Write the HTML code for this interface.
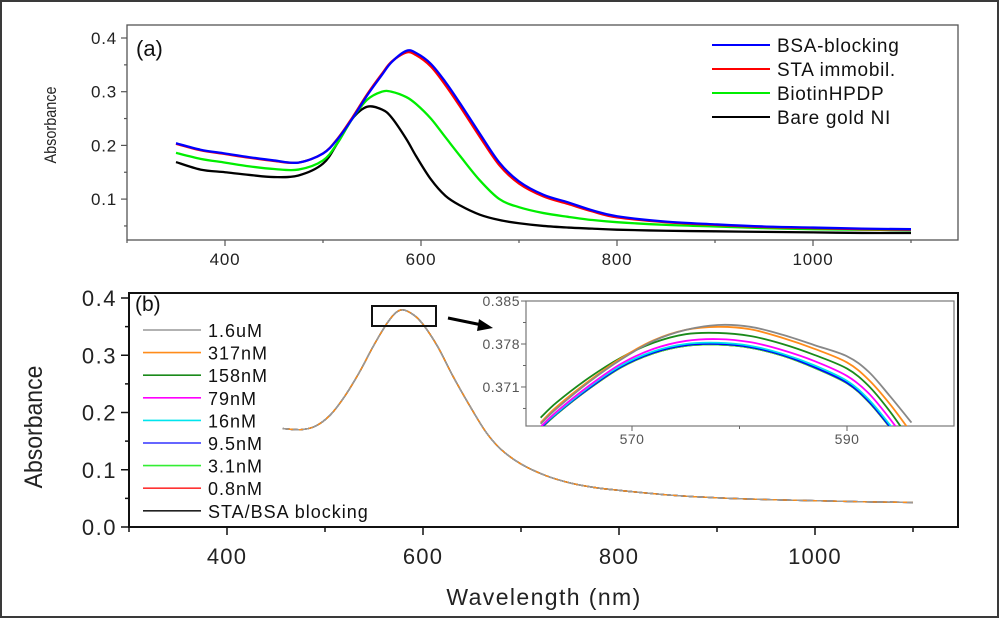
<!DOCTYPE html>
<html><head><meta charset="utf-8">
<style>
html,body{margin:0;padding:0;background:#fff;}
svg{display:block;font-family:"Liberation Sans",Arial,sans-serif;}
</style></head>
<body>
<svg id="fig" width="1000" height="620" viewBox="0 0 1000 620" xmlns="http://www.w3.org/2000/svg">
<rect x="1" y="1" width="997" height="616" fill="#fff" stroke="#3a3a3a" stroke-width="2"/>
<g id="pa"></g>
<g id="pb"></g>
<g id="pi"></g>
</svg>
<script>
// ---------- Panel (a) data ----------
const aWl = [350,375,400,425,450,475,500,515,530,545,560,570,585,595,610,625,640,660,680,700,725,750,775,800,850,900,950,1000,1050,1100];
const aBSA = [0.204,0.192,0.185,0.178,0.172,0.168,0.185,0.212,0.250,0.293,0.331,0.355,0.376,0.372,0.352,0.318,0.278,0.222,0.168,0.133,0.108,0.094,0.079,0.068,0.058,0.053,0.049,0.047,0.045,0.044];
const aSTA = [0.203,0.191,0.184,0.177,0.171,0.168,0.185,0.213,0.252,0.295,0.333,0.356,0.373,0.368,0.347,0.312,0.272,0.216,0.163,0.129,0.105,0.091,0.077,0.066,0.057,0.052,0.048,0.046,0.044,0.043];
const aBiotin = [0.186,0.175,0.168,0.161,0.156,0.155,0.172,0.205,0.250,0.285,0.300,0.300,0.290,0.277,0.250,0.215,0.180,0.135,0.100,0.085,0.074,0.067,0.061,0.057,0.052,0.049,0.046,0.044,0.043,0.042];
const aBare = [0.169,0.155,0.150,0.145,0.141,0.144,0.166,0.205,0.250,0.272,0.267,0.252,0.212,0.180,0.137,0.106,0.088,0.071,0.061,0.055,0.050,0.047,0.045,0.043,0.041,0.040,0.039,0.038,0.037,0.037];
const aSeries = [aBSA,aSTA,aBiotin,aBare];
const aNames = ["BSA-blocking","STA immobil.","BiotinHPDP","Bare gold NI"];
const aColors = ["#0000ff","#ff0000","#00ee00","#000000"];
const aYTicks = [0.1,0.2,0.3,0.4];
const aXTicks = [400,600,800,1000];

// ---------- Panel (b) data ----------
const bWl = [457,475,490,505,520,535,550,565,577,590,600,615,631,650,665,680,700,725,750,775,800,850,900,950,1000,1050,1100];
const bBase = [0.172,0.170,0.176,0.195,0.228,0.270,0.318,0.360,0.379,0.371,0.354,0.315,0.262,0.205,0.164,0.135,0.110,0.090,0.077,0.069,0.064,0.056,0.051,0.048,0.046,0.044,0.043];
const bNames = ["1.6uM","317nM","158nM","79nM","16nM","9.5nM","3.1nM","0.8nM","STA/BSA blocking"];
const bColors = ["#999999","#ff8c1a","#1a8a1a","#ff00ff","#00e5ee","#3333ff","#33ee33","#ff3333","#222222"];
const bYTicks = [0.0,0.1,0.2,0.3,0.4];
const bYLabels = ["0.0","0.1","0.2","0.3","0.4"];
const bXTicks = [400,600,800,1000];

// ---------- Inset data ----------
const iWl = [561.5,563,566,569,572,575,578,581,584,587,590,592,594,596];
const iGray = [0.3650,0.3675,0.3718,0.3755,0.3785,0.3803,0.3811,0.3808,0.3795,0.3778,0.3760,0.3735,0.3695,0.3652];
const iOrange = [0.3652,0.3678,0.3720,0.3757,0.3786,0.3803,0.3808,0.3804,0.3790,0.3772,0.3750,0.3722,0.3682,0.3635];
const iDkGreen = [0.3660,0.3685,0.3725,0.3758,0.3782,0.3796,0.3798,0.3793,0.3780,0.3762,0.3740,0.3712,0.3670,0.3620];
const iMagenta = [0.3645,0.3670,0.3712,0.3748,0.3772,0.3785,0.3788,0.3783,0.3770,0.3752,0.3728,0.3700,0.3658,0.3610];
const iCyan = [0.3645,0.3668,0.3710,0.3745,0.3768,0.3780,0.3782,0.3777,0.3764,0.3745,0.3720,0.3690,0.3648,0.3600];
const iBlue = [0.3643,0.3667,0.3708,0.3743,0.3766,0.3778,0.3780,0.3775,0.3762,0.3742,0.3717,0.3687,0.3645,0.3597];
const iGreen = [0.3642,0.3666,0.3707,0.3742,0.3765,0.3777,0.3779,0.3774,0.3761,0.3741,0.3716,0.3686,0.3644,0.3596];
const iRed = [0.3642,0.3666,0.3707,0.3742,0.3765,0.3777,0.3779,0.3774,0.3761,0.3741,0.3716,0.3686,0.3644,0.3596];
const iBlack = [0.3642,0.3666,0.3707,0.3742,0.3765,0.3777,0.3779,0.3774,0.3761,0.3741,0.3716,0.3686,0.3644,0.3596];
const iSeries = [iBlack,iRed,iGreen,iBlue,iCyan,iMagenta,iDkGreen,iOrange,iGray];
const iColors = ["#222222","#ff3333","#33ee33","#0000ff","#00e5ee","#ff00ff","#1a8a1a","#ff8c1a","#888888"];
const iYTicks = [0.371,0.378,0.385];
const iXTicks = [570,590];

const NS="http://www.w3.org/2000/svg";
function mk(tag, parent, attrs){const e=document.createElementNS(NS,tag);for(const k in attrs)e.setAttribute(k,attrs[k]);parent.appendChild(e);return e;}
// smooth Catmull-Rom path through data points
function pathD(xs,ys,fx,fy){
  const P=xs.map((x,i)=>[fx(x),fy(ys[i])]);
  let d="M"+P[0][0].toFixed(2)+","+P[0][1].toFixed(2);
  for(let i=0;i<P.length-1;i++){
    const p0=P[Math.max(0,i-1)],p1=P[i],p2=P[i+1],p3=P[Math.min(P.length-1,i+2)];
    const c1=[p1[0]+(p2[0]-p0[0])/6,p1[1]+(p2[1]-p0[1])/6];
    const c2=[p2[0]-(p3[0]-p1[0])/6,p2[1]-(p3[1]-p1[1])/6];
    d+=" C"+c1[0].toFixed(2)+","+c1[1].toFixed(2)+" "+c2[0].toFixed(2)+","+c2[1].toFixed(2)+" "+p2[0].toFixed(2)+","+p2[1].toFixed(2);
  }
  return d;
}

// ---------- Panel (a) ----------
(function(){
  const g=document.getElementById('pa');
  const L=127,R=958,T=25,B=240;
  const fx=x=>L+(x-300)*0.98;
  const fy=v=>38+(0.4-v)*537;
  const box=mk('rect',g,{x:L,y:T,width:R-L,height:B-T,fill:'none',stroke:'#555','stroke-width':1.3});
  
  
  for(let k=1;k<=8;k++){
    const v=k*0.05, major=k%2===0;
    const t=mk('line',g,{x1:L,x2:L-(major?6:3),y1:fy(v),y2:fy(v),stroke:'#555','stroke-width':1.2});
    
    
  }
  aYTicks.forEach(v=>{
    const t=mk('text',g,{x:L-10,y:fy(v)+6,'text-anchor':'end','font-size':17,fill:'#222','letter-spacing':'0.8'});
    t.textContent=v.toFixed(1);
    
    
  });
  for(let x=300;x<=1100;x+=100){
    const major=x%200===0;
    const t=mk('line',g,{x1:fx(x),x2:fx(x),y1:B,y2:B+(major?6:3),stroke:'#555','stroke-width':1.2});
    
    
  }
  aXTicks.forEach(x=>{
    const t=mk('text',g,{x:fx(x),y:265,'text-anchor':'middle','font-size':17,fill:'#222','letter-spacing':'0.8'});
    t.textContent=x;
    
    
  });
  const yt=mk('text',g,{x:0,y:0,'text-anchor':'middle','font-size':17,fill:'#222',transform:'translate(56,125) rotate(-90) scale(0.85,1)'});
  yt.textContent='Absorbance';
  
  
  const lab=mk('text',g,{x:136,y:56,'font-size':22,fill:'#111'});
  lab.textContent='(a)';
  
  
  [3,2,1,0].forEach(i=>{
    const p=mk('path',g,{d:pathD(aWl,aSeries[i],fx,fy),fill:'none',stroke:aColors[i],'stroke-width':2.3,'stroke-linejoin':'round'});
    
    
  });
  aNames.forEach((n,i)=>{
    const y=45+i*24;
    const l=mk('line',g,{x1:712,x2:770,y1:y,y2:y,stroke:aColors[i],'stroke-width':2});
    
    
    const t=mk('text',g,{x:777,y:y+7,'font-size':19,fill:'#111','letter-spacing':'0.7'});
    t.textContent=n;
    
    
  });
})();

// ---------- Panel (b) ----------
(function(){
  const g=document.getElementById('pb');
  const L=129,R=958,T=293,B=527;
  const fx=x=>L+(x-300)*0.98;
  const fy=v=>B-v*572.5;
  const box=mk('rect',g,{x:L,y:T,width:R-L,height:B-T,fill:'none',stroke:'#111','stroke-width':2});
  
  
  for(let k=0;k<=8;k++){
    const v=k*0.05, major=k%2===0;
    const t=mk('line',g,{x1:L,x2:L-(major?8:4),y1:fy(v),y2:fy(v),stroke:'#111','stroke-width':1.5});
    
    
  }
  bYTicks.forEach((v,i)=>{
    const t=mk('text',g,{x:L-12,y:fy(v)+8,'text-anchor':'end','font-size':22,fill:'#222','letter-spacing':'1.5'});
    t.textContent=bYLabels[i];
    
    
  });
  for(let x=300;x<=1100;x+=100){
    const major=x%200===0;
    const t=mk('line',g,{x1:fx(x),x2:fx(x),y1:B,y2:B+(major?8:5),stroke:'#111','stroke-width':1.5});
    
    
  }
  bXTicks.forEach(x=>{
    const t=mk('text',g,{x:fx(x),y:564,'text-anchor':'middle','font-size':22,fill:'#222','letter-spacing':'1.2'});
    t.textContent=x;
    
    
  });
  const xt=mk('text',g,{x:544,y:605,'text-anchor':'middle','font-size':23,fill:'#222','letter-spacing':'1.4'});
  xt.textContent='Wavelength (nm)';
  
  
  const yt=mk('text',g,{x:0,y:0,'text-anchor':'middle','font-size':25,fill:'#222',transform:'translate(42,427) rotate(-90) scale(0.92,1)'});
  yt.textContent='Absorbance';
  
  
  const lab=mk('text',g,{x:135,y:311,'font-size':21,fill:'#111'});
  lab.textContent='(b)';
  
  
  const order=[8,7,6,5,4,3,2,1,0];
  order.forEach(i=>{
    const p=mk('path',g,{d:pathD(bWl,bBase,fx,fy),fill:'none',stroke:bColors[i],'stroke-width':1.4,'stroke-linejoin':'round','stroke-dasharray':i===0?'6 4':'none'});
    
    
  });
  bNames.forEach((n,i)=>{
    const y=330+i*22.6;
    const l=mk('line',g,{x1:143,x2:201,y1:y,y2:y,stroke:bColors[i],'stroke-width':1.6});
    
    
    const t=mk('text',g,{x:208,y:y+7,'font-size':18,fill:'#111','letter-spacing':'1'});
    t.textContent=n;
    
    
  });
  const zr=mk('rect',g,{x:372,y:306,width:64,height:20,fill:'none',stroke:'#111','stroke-width':2});
  
  
  const ar=mk('path',g,{d:'M448,318 L482,325',stroke:'#000','stroke-width':3,fill:'none'});
  
  
  const ah=mk('polygon',g,{points:'493,328 479,319 477,331',fill:'#000'});
  
  
})();

// ---------- Inset ----------
(function(){
  const g=document.getElementById('pi');
  const L=526,R=954,T=301,B=426;
  const fx=x=>632+(x-570)*10.75;
  const fy=v=>344+(0.378-v)*6140;
  const bg=mk('rect',g,{x:L,y:T,width:R-L,height:B-T,fill:'#fff',stroke:'#777','stroke-width':1.2});
  
  
  const defs=mk('defs',g,{});
  const cp=mk('clipPath',defs,{id:'icp'});
  mk('rect',cp,{x:L,y:T,width:R-L,height:B-T});
  const sg=mk('g',g,{'clip-path':'url(#icp)'});
  iSeries.forEach((s,i)=>{
    const p=mk('path',sg,{d:pathD(iWl,s,fx,fy),fill:'none',stroke:iColors[i],'stroke-width':1.8,'stroke-linejoin':'round'});
    
    
  });
  [0.3675,0.371,0.3745,0.378,0.3815,0.385].forEach((v,k)=>{
    const t=mk('line',g,{x1:L,x2:L-(k%2?5:3),y1:fy(v),y2:fy(v),stroke:'#666','stroke-width':1});
    
    
  });
  iYTicks.forEach(v=>{
    const t=mk('text',g,{x:L-6,y:fy(v)+5,'text-anchor':'end','font-size':14,fill:'#555','letter-spacing':'0.5'});
    t.textContent=v.toFixed(3);
    
    
  });
  [570,580,590].forEach(x=>{
    const t=mk('line',g,{x1:fx(x),x2:fx(x),y1:B,y2:B+(x===580?3:5),stroke:'#666','stroke-width':1});
    
    
  });
  iXTicks.forEach(x=>{
    const t=mk('text',g,{x:fx(x),y:444,'text-anchor':'middle','font-size':14,fill:'#555','letter-spacing':'0.5'});
    t.textContent=x;
    
    
  });
})();
</script>
</body></html>
